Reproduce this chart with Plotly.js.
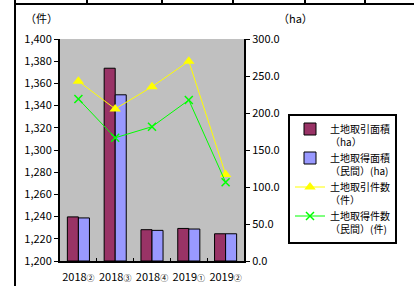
<!DOCTYPE html>
<html><head><meta charset="utf-8">
<script src="https://cdn.plot.ly/plotly-3.0.1.min.js"></script>
<style>html,body{margin:0;padding:0;background:#fff;}#c{width:414px;height:286px;}</style>
</head><body><div id="c"></div>
<script>
const categories = ["2018②", "2018③", "2018④", "2019①", "2019②"];
const areaTrade = [59.6, 260.5, 42.3, 44.0, 36.8];      // 土地取引面積 (ha)
const areaAcquire = [58.2, 224.6, 41.4, 43.2, 36.8];    // 土地取得面積（民間）(ha)
const countTrade = [1362, 1337, 1357, 1380, 1278];      // 土地取引件数 (件)
const countAcquire = [1346, 1311, 1321, 1345, 1271];    // 土地取得件数（民間）(件)

const W = 414, H = 286, L = 60, R = 244, T = 39, B = 261;
const px = x => (x - L) / (R - L);
const py = y => (B - y) / (B - T);
const font = "'Noto Sans CJK JP', 'DejaVu Sans', sans-serif";
const tickText = categories.map(c => c.slice(0, 4) + "<span style='font-size:8px'>" + c.slice(4) + "</span>");

const traces = [
  {type: 'bar', name: '土地取引面積<br>（ha）', x: categories, y: areaTrade, yaxis: 'y',
   marker: {color: '#993366', line: {color: '#000', width: 1}}},
  {type: 'bar', name: '土地取得面積<br>（民間）(ha)', x: categories, y: areaAcquire, yaxis: 'y',
   marker: {color: '#9999FF', line: {color: '#000', width: 1}}},
  {type: 'scatter', mode: 'lines+markers', name: '土地取引件数<br>（件）', x: categories, y: countTrade, yaxis: 'y2',
   line: {color: '#FFFF00', width: 1}, marker: {symbol: 'triangle-up', size: 10, color: '#FFFF00'}},
  {type: 'scatter', mode: 'lines+markers', name: '土地取得件数<br>（民間）(件)', x: categories, y: countAcquire, yaxis: 'y2',
   line: {color: '#00FF00', width: 1}, marker: {symbol: 'x-thin', size: 8, line: {color: '#00FF00', width: 1.5}, color: '#00FF00'}}
];

const shapes = [];
const ln = (x0, y0, x1, y1, w) => shapes.push({type: 'line', xref: 'paper', yref: 'paper',
  x0: px(x0), y0: py(y0), x1: px(x1), y1: py(y1), line: {color: '#000', width: w}, layer: 'above'});
ln(15, 0, 15, 286, 2);
ln(15, 4, 414, 4, 2);
[87, 162, 233, 305, 365].forEach(x => ln(x, 0, x, 4, 2));

const layout = {
  width: W, height: H,
  margin: {l: L, r: W - R, t: T, b: H - B, pad: 0},
  paper_bgcolor: '#fff', plot_bgcolor: '#C0C0C0',
  font: {family: font, size: 11, color: '#000'},
  showlegend: true,
  barmode: 'group', bargap: 0.4, bargroupgap: 0,
  xaxis: {type: 'category', showline: true, linecolor: '#000', linewidth: 2, ticks: 'inside', tickson: 'boundaries',
    ticklen: 3, tickcolor: '#000', showgrid: false, tickfont: {size: 11}, tickangle: 0, automargin: false,
    tickmode: 'array', tickvals: categories, ticktext: tickText, ticklabelstandoff: 5},
  yaxis: {side: 'right', range: [0, 300], dtick: 50, tickformat: '.1f', showline: true, linecolor: '#000', linewidth: 2,
    ticks: 'outside', ticklen: 4, tickcolor: '#000', showgrid: false, zeroline: false, tickfont: {size: 11}},
  yaxis2: {overlaying: 'y', side: 'left', range: [1200, 1400], dtick: 20, tickformat: ',d', showline: true,
    linecolor: '#000', linewidth: 2, ticks: 'outside', ticklen: 4, tickcolor: '#000', showgrid: false, zeroline: false,
    tickfont: {size: 11}},
  legend: {x: px(288), y: py(114), xanchor: 'left', yanchor: 'top', bgcolor: '#fff', bordercolor: '#000', borderwidth: 2,
    font: {size: 10}, tracegroupgap: 0, itemwidth: 30, traceorder: 'normal', valign: 'top'},
  annotations: [
    {text: '（件）', xref: 'paper', yref: 'paper', x: px(23), y: py(18), xanchor: 'left', yanchor: 'middle', showarrow: false, font: {size: 11}},
    {text: '（ha）', xref: 'paper', yref: 'paper', x: px(276), y: py(18), xanchor: 'left', yanchor: 'middle', showarrow: false, font: {size: 11}}
  ],
  shapes: shapes
};
Plotly.newPlot('c', traces, layout, {staticPlot: true, displayModeBar: false});
</script></body></html>
